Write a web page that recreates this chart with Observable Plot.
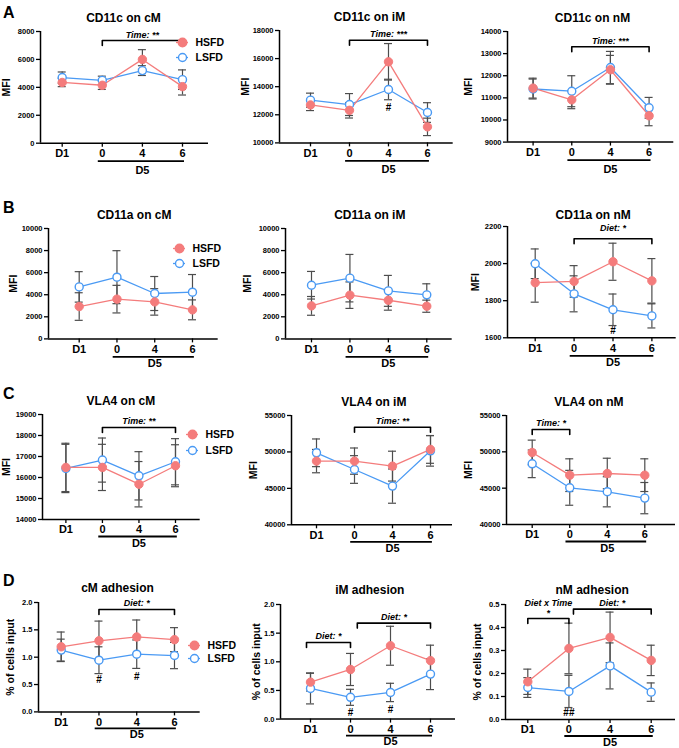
<!DOCTYPE html>
<html><head><meta charset="utf-8">
<script src="https://cdn.jsdelivr.net/npm/d3@7"></script>
<script src="https://cdn.jsdelivr.net/npm/@observablehq/plot@0.6"></script>
<style>
body{margin:0;background:#fff;}
#fig{position:relative;width:679px;height:748px;overflow:hidden;background:#fff;font-family:"Liberation Sans",Arial,sans-serif;}
#fig svg{position:absolute;}
.letter{position:absolute;font:bold 16px/16px "Liberation Sans",Arial,sans-serif;color:#000;}
</style></head><body><div id="fig"></div>
<script>
// ---------- data ----------
const timepoints = ["D1", "0", "4", "6"];
const groups = ["HSFD", "LSFD"];

// A: CD11c
const cd11c_cM_H = [4350, 4150, 6000, 4050],   cd11c_cM_He = [300, 300, 700, 600];
const cd11c_cM_L = [4700, 4500, 5200, 4550],   cd11c_cM_Le = [400, 300, 350, 700];
const cd11c_iM_H = [12700, 12320, 15770, 11140], cd11c_iM_He = [400, 550, 1300, 620];
const cd11c_iM_L = [13040, 12730, 13800, 12160], cd11c_iM_Le = [500, 780, 730, 700];
const cd11c_nM_H = [11440, 10910, 12270, 10190], cd11c_nM_He = [450, 400, 650, 450];
const cd11c_nM_L = [11400, 11300, 12370, 10550], cd11c_nM_Le = [450, 700, 730, 470];
// B: CD11a
const cd11a_cM_H = [2930, 3600, 3350, 2630], cd11a_cM_He = [1250, 1250, 1200, 900];
const cd11a_cM_L = [4710, 5590, 4110, 4230], cd11a_cM_Le = [1380, 2400, 1540, 1600];
const cd11a_iM_H = [2990, 3960, 3500, 2960], cd11a_iM_He = [850, 1200, 900, 550];
const cd11a_iM_L = [4860, 5500, 4350, 3990], cd11a_iM_Le = [1250, 2150, 1400, 1000];
const cd11a_nM_H = [1897, 1904, 2010, 1907], cd11a_nM_He = [105, 85, 100, 120];
const cd11a_nM_L = [1999, 1837, 1751, 1718], cd11a_nM_Le = [80, 97, 85, 65];
// C: VLA4
const vla4_cM_H = [16480, 16480, 15680, 16560], vla4_cM_He = [1150, 1100, 1080, 1000];
const vla4_cM_L = [16430, 16830, 16080, 16750], vla4_cM_Le = [1150, 1050, 1150, 1100];
const vla4_iM_H = [48740, 48740, 48050, 50340], vla4_iM_He = [1600, 1800, 2050, 1900];
const vla4_iM_L = [49880, 47590, 45310, 50150], vla4_iM_Le = [1900, 1900, 2350, 2100];
const vla4_nM_H = [49910, 46790, 47020, 46790], vla4_nM_He = [1700, 2250, 2100, 2250];
const vla4_nM_L = [48350, 45050, 44500, 43630], vla4_nM_Le = [1900, 2400, 2070, 2150];
// D: adhesion (% of cells input)
const adh_cM_H = [1.19, 1.30, 1.37, 1.32],   adh_cM_He = [0.27, 0.36, 0.31, 0.22];
const adh_cM_L = [1.13, 0.945, 1.055, 1.03], adh_cM_Le = [0.20, 0.245, 0.26, 0.24];
const adh_iM_H = [0.645, 0.866, 1.28, 1.02], adh_iM_He = [0.155, 0.28, 0.34, 0.27];
const adh_iM_L = [0.535, 0.38, 0.465, 0.785], adh_iM_Le = [0.27, 0.14, 0.16, 0.27];
const adh_nM_H = [0.164, 0.309, 0.357, 0.257], adh_nM_He = [0.055, 0.11, 0.11, 0.066];
const adh_nM_L = [0.139, 0.122, 0.233, 0.119], adh_nM_Le = [0.043, 0.07, 0.10, 0.04];

// y tick values
const ticks8k = [0, 2000, 4000, 6000, 8000];
const ticks18k = [10000, 12000, 14000, 16000, 18000];
const ticks14k = [9000, 10000, 11000, 12000, 13000, 14000];
const ticks10k = [0, 2000, 4000, 6000, 8000, 10000];
const ticks2200 = [1600, 1800, 2000, 2200];
const ticks19k = [14000, 15000, 16000, 17000, 18000, 19000];
const ticks55k = [40000, 45000, 50000, 55000];
const ticks2 = [0, 0.5, 1.0, 1.5, 2.0];
const ticks05 = [0, 0.1, 0.2, 0.3, 0.4, 0.5];

// statistics annotations (x in time-point index, y in data units)
const br_A1 = [{x1: 1, x2: 3, y: 7355, label: "Time: **"}];
const br_A2 = [{x1: 1, x2: 3, y: 17310, label: "Time: ***"}];
const br_A3 = [{x1: 1, x2: 3, y: 13308, label: "Time: ***"}];
const br_B3 = [{x1: 1, x2: 3, y: 2134, label: "Diet: *", dy: -8}];
const br_C1 = [{x1: 1, x2: 3, y: 18381, label: "Time: **"}];
const br_C2 = [{x1: 1, x2: 3, y: 53395, label: "Time: **"}];
const br_C3 = [{x1: 0, x2: 1, y: 53074, label: "Time: *"}];
const br_D1 = [{x1: 1, x2: 3, y: 1.872, label: "Diet: *"}];
const br_D2 = [{x1: -0.1, x2: 1, y: 1.337, label: "Diet: *"}, {x1: 1.17, x2: 3, y: 1.675, label: "Diet: *"}];
const br_D3 = [{x1: 0, x2: 1, y: 0.439, label: "Diet x Time\n*"}, {x1: 1.11, x2: 3, y: 0.48, label: "Diet: *"}];
const hash_A2 = [{x: 2, y: 12490, label: "#"}];
const hash_B3 = [{x: 2, y: 1639, label: "#"}];
const hash_D1 = [{x: 1, y: 0.58, label: "#"}, {x: 2, y: 0.64, label: "#"}];
const hash_D2 = [{x: 1, y: 0.115, label: "#"}, {x: 2, y: 0.163, label: "#"}];
const hash_D3 = [{x: 1, y: 0.028, label: "##"}];

const panels = [
  {title: "CD11c on cM", ylabel: "MFI", H: cd11c_cM_H, He: cd11c_cM_He, L: cd11c_cM_L, Le: cd11c_cM_Le, yd: [0, 8000], ticks: ticks8k, br: br_A1, hash: []},
  {title: "CD11c on iM", ylabel: "MFI", H: cd11c_iM_H, He: cd11c_iM_He, L: cd11c_iM_L, Le: cd11c_iM_Le, yd: [10000, 18000], ticks: ticks18k, br: br_A2, hash: hash_A2},
  {title: "CD11c on nM", ylabel: "MFI", H: cd11c_nM_H, He: cd11c_nM_He, L: cd11c_nM_L, Le: cd11c_nM_Le, yd: [9000, 14000], ticks: ticks14k, br: br_A3, hash: []},
  {title: "CD11a on cM", ylabel: "MFI", H: cd11a_cM_H, He: cd11a_cM_He, L: cd11a_cM_L, Le: cd11a_cM_Le, yd: [0, 10000], ticks: ticks10k, br: [], hash: []},
  {title: "CD11a on iM", ylabel: "MFI", H: cd11a_iM_H, He: cd11a_iM_He, L: cd11a_iM_L, Le: cd11a_iM_Le, yd: [0, 10000], ticks: ticks10k, br: [], hash: []},
  {title: "CD11a on nM", ylabel: "MFI", H: cd11a_nM_H, He: cd11a_nM_He, L: cd11a_nM_L, Le: cd11a_nM_Le, yd: [1600, 2200], ticks: ticks2200, br: br_B3, hash: hash_B3},
  {title: "VLA4 on cM", ylabel: "MFI", H: vla4_cM_H, He: vla4_cM_He, L: vla4_cM_L, Le: vla4_cM_Le, yd: [14000, 19000], ticks: ticks19k, br: br_C1, hash: []},
  {title: "VLA4 on iM", ylabel: "MFI", H: vla4_iM_H, He: vla4_iM_He, L: vla4_iM_L, Le: vla4_iM_Le, yd: [40000, 55000], ticks: ticks55k, br: br_C2, hash: []},
  {title: "VLA4 on nM", ylabel: "MFI", H: vla4_nM_H, He: vla4_nM_He, L: vla4_nM_L, Le: vla4_nM_Le, yd: [40000, 55000], ticks: ticks55k, br: br_C3, hash: []},
  {title: "cM adhesion", ylabel: "% of cells input", H: adh_cM_H, He: adh_cM_He, L: adh_cM_L, Le: adh_cM_Le, yd: [0, 2], ticks: ticks2, fmt: d3.format(".1f"), br: br_D1, hash: hash_D1},
  {title: "iM adhesion", ylabel: "% of cells input", H: adh_iM_H, He: adh_iM_He, L: adh_iM_L, Le: adh_iM_Le, yd: [0, 2], ticks: ticks2, fmt: d3.format(".1f"), br: br_D2, hash: hash_D2},
  {title: "nM adhesion", ylabel: "% of cells input", H: adh_nM_H, He: adh_nM_He, L: adh_nM_L, Le: adh_nM_Le, yd: [0, 0.5], ticks: ticks05, fmt: d3.format(".1f"), br: br_D3, hash: hash_D3}
];

// ---------- layout (pixels) ----------
// ax/ae: y-axis x and x-axis end; yt/yb: top/bottom of y range; pD1/p6: x of first/last time point
// tx/ty: title centre; lx: y-label centre x; ul/d5: underline and "D5" offsets below the axis
const layout = [
  {ax: 40,    ae: 208, yt: 31,    yb: 142.7, pD1: 61.7,  p6: 182,   tx: 123,   ty: 12.7,  lx: 6,   ul: 18,   d5: 27},
  {ax: 279.3, ae: 453, yt: 30.3,  yb: 142.7, pD1: 310.3, p6: 427.3, tx: 369.3, ty: 12.7,  lx: 245, ul: 18,   d5: 27},
  {ax: 506.7, ae: 673, yt: 30.7,  yb: 141.3, pD1: 532.3, p6: 648.3, tx: 591.7, ty: 12.7,  lx: 468, ul: 18,   d5: 27},
  {ax: 48.3,  ae: 218, yt: 228.3, yb: 338.7, pD1: 79,    p6: 192.3, tx: 134,   ty: 210,   lx: 13,  ul: 18,   d5: 25},
  {ax: 285,   ae: 451.7, yt: 228.3, yb: 338.7, pD1: 311, p6: 426.3, tx: 369.3, ty: 210,   lx: 247, ul: 18,   d5: 25},
  {ax: 507.3, ae: 676, yt: 226,   yb: 337.3, pD1: 535,   p6: 651.7, tx: 593,   ty: 210,   lx: 475, ul: 18,   d5: 25},
  {ax: 42.3,  ae: 200, yt: 413.7, yb: 518.7, pD1: 65.7,  p6: 175.3, tx: 120.7, ty: 395.7, lx: 6,   ul: 17,   d5: 23.5},
  {ax: 291,   ae: 452, yt: 415,   yb: 524.3, pD1: 316,   p6: 430,   tx: 373.3, ty: 396.7, lx: 253, ul: 17,   d5: 23.5},
  {ax: 506,   ae: 675, yt: 415,   yb: 524,   pD1: 531.7, p6: 644.3, tx: 588.3, ty: 396.7, lx: 468, ul: 17,   d5: 23.5},
  {ax: 38.3,  ae: 200, yt: 602.3, yb: 711.7, pD1: 61,    p6: 174.3, tx: 117.3, ty: 583.3, lx: 10,  ul: 16.5, d5: 22.5},
  {ax: 280,   ae: 455, yt: 603.7, yb: 718.3, pD1: 310,   p6: 430,   tx: 369.3, ty: 584.3, lx: 256, ul: 16.5, d5: 22.5},
  {ax: 505,   ae: 675, yt: 603.7, yb: 718.7, pD1: 527.3, p6: 650.7, tx: 591.7, ty: 585,   lx: 477, ul: 16.5, d5: 22.5}
];
const legends = [
  {left: 176, top: 33.5, h: 30}, {left: 173, top: 240.2, h: 30},
  {left: 185.7, top: 425, h: 33.4}, {left: 188, top: 637.6, h: 26.8}
];
const letters = [["A", 5], ["B", 200], ["C", 386], ["D", 573]];

const hColor = "#F47C7C", lColor = "#4A9AF4", errColor = "#4d4d4d";
const FONT = "'Liberation Sans', Arial, sans-serif";
const fig = document.getElementById("fig");

function panelPlot(p, lay) {
  const [y0, y1] = p.yd;
  const k = (lay.p6 - lay.pD1) / 3;
  const d0 = -(lay.pD1 - lay.ax) / k, d1 = 3 + (lay.ae - lay.p6) / k;
  const mL = 50, mT = 30, mR = 20, mB = 40;
  const width = lay.ae - lay.ax + mL + mR;
  const height = lay.yb - lay.yt + mT + mB;
  const upp = (y1 - y0) / (lay.yb - lay.yt);
  const rows = (v, e) => timepoints.map((t, i) => ({i, t, v: v[i], e: e[i]}));
  const H = rows(p.H, p.He), L = rows(p.L, p.Le);
  const cap = 4 / k;
  const err = (data) => [
    Plot.ruleX(data, {x: "i", y1: d => d.v - d.e, y2: d => d.v + d.e, stroke: errColor, strokeWidth: 1.2}),
    Plot.ruleY(data, {y: d => d.v + d.e, x1: d => d.i - cap, x2: d => d.i + cap, stroke: errColor, strokeWidth: 1.2}),
    Plot.ruleY(data, {y: d => d.v - d.e, x1: d => d.i - cap, x2: d => d.i + cap, stroke: errColor, strokeWidth: 1.2})
  ];
  const leg = 5 * upp;
  const bracketMarks = p.br.flatMap(b => [
    Plot.line([[b.x1, b.y - leg], [b.x1, b.y], [b.x2, b.y], [b.x2, b.y - leg]], {stroke: "#000", strokeWidth: 1.6}),
    Plot.text([b], {x: d => (d.x1 + d.x2) / 2, y: "y", text: "label", lineAnchor: "bottom", dy: b.dy ?? -3,
      fontSize: 9, fontWeight: "bold", fontStyle: "italic", lineHeight: 1.1})
  ]);
  const plot = Plot.plot({
    width, height, marginLeft: mL, marginTop: mT, marginRight: mR, marginBottom: mB,
    style: {background: "transparent", overflow: "visible", fontFamily: FONT, color: "#000"},
    x: {type: "linear", domain: [d0, d1]},
    y: {domain: [y0, y1]},
    marks: [
      Plot.axisY({ticks: p.ticks, tickFormat: p.fmt ?? (d => String(d)), tickSize: 4, tickPadding: 2, fontSize: 7.5, fontWeight: "bold", strokeWidth: 1.3, label: null}),
      Plot.axisX({ticks: [0, 1, 2, 3], tickFormat: i => timepoints[i], tickSize: 4, tickPadding: 2, fontSize: 11, fontWeight: "bold", strokeWidth: 1.3, label: null}),
      Plot.ruleY([y0], {stroke: "#000", strokeWidth: 1.5}),
      Plot.ruleX([d0], {stroke: "#000", strokeWidth: 1.5}),
      Plot.ruleY([y0], {x1: 0.9, x2: 3.05, dy: lay.ul, stroke: "#000", strokeWidth: 1.8}),
      Plot.text(["D5"], {x: 2, y: y0, dy: lay.d5, fontSize: 11, fontWeight: "bold"}),
      Plot.text([p.title], {frameAnchor: "top", dx: lay.tx - (lay.ax + lay.ae) / 2, dy: lay.ty - lay.yt, fontSize: 12, fontWeight: "bold"}),
      Plot.text([p.ylabel], {frameAnchor: "left", textAnchor: "middle", dx: lay.lx - lay.ax, rotate: -90, fontSize: 10.5, fontWeight: "bold"}),
      ...err(L), ...err(H),
      Plot.line(L, {x: "i", y: "v", stroke: lColor, strokeWidth: 1.3}),
      Plot.line(H, {x: "i", y: "v", stroke: hColor, strokeWidth: 1.3}),
      Plot.dot(L, {x: "i", y: "v", r: 4, fill: "white", stroke: lColor, strokeWidth: 1.4}),
      Plot.dot(H, {x: "i", y: "v", r: 4.2, fill: hColor, stroke: hColor, strokeWidth: 1}),
      ...bracketMarks,
      Plot.text(p.hash, {x: "x", y: "y", text: "label", fontSize: 10, fontWeight: "bold"})
    ]
  });
  plot.style.left = (lay.ax - mL) + "px";
  plot.style.top = (lay.yt - mT) + "px";
  return plot;
}

function legendPlot(l) {
  const plot = Plot.plot({
    width: 70, height: l.h, margin: 0,
    style: {background: "transparent", overflow: "visible", fontFamily: FONT, color: "#000"},
    x: {domain: [0, 70], range: [0, 70], axis: null},
    y: {type: "point", domain: groups, range: [0, l.h], padding: 0.5, axis: null},
    marks: [
      Plot.ruleY(["HSFD"], {y: d => d, x1: 0, x2: 12, stroke: hColor, strokeWidth: 1.3}),
      Plot.ruleY(["LSFD"], {y: d => d, x1: 0, x2: 12, stroke: lColor, strokeWidth: 1.3}),
      Plot.dot(["HSFD"], {x: 6, y: d => d, r: 4.2, fill: hColor, stroke: hColor}),
      Plot.dot(["LSFD"], {x: 6, y: d => d, r: 4, fill: "white", stroke: lColor, strokeWidth: 1.4}),
      Plot.text(groups, {x: 19, y: d => d, text: d => d, textAnchor: "start", fontSize: 10.5, fontWeight: "bold"})
    ]
  });
  plot.style.left = l.left + "px";
  plot.style.top = l.top + "px";
  return plot;
}

panels.forEach((p, i) => fig.appendChild(panelPlot(p, layout[i])));
legends.forEach(l => fig.appendChild(legendPlot(l)));
letters.forEach(([t, top]) => {
  const d = document.createElement("div");
  d.className = "letter"; d.textContent = t;
  d.style.left = "3px"; d.style.top = top + "px";
  fig.appendChild(d);
});
</script></body></html>
